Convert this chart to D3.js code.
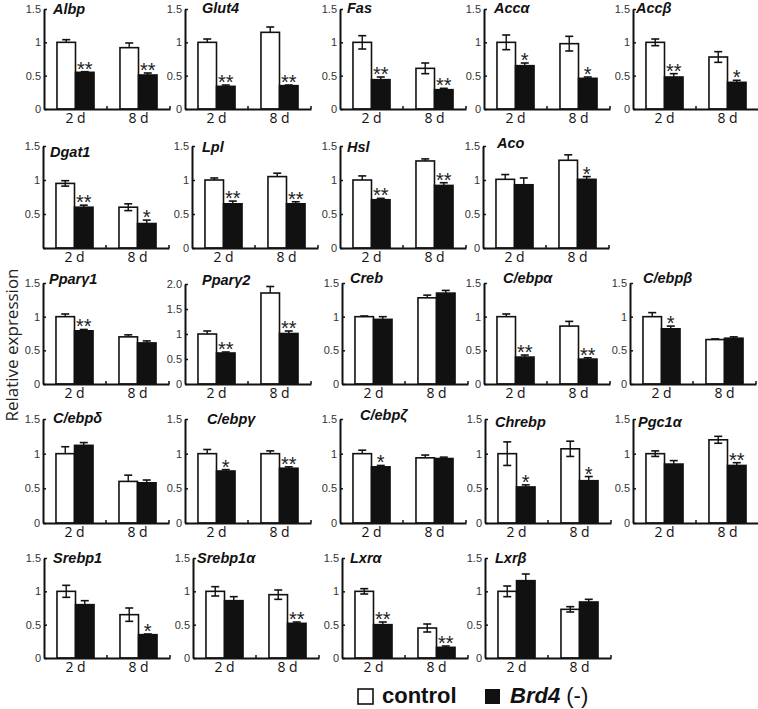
<!DOCTYPE html>
<html><head><meta charset="utf-8">
<script src="https://cdn.jsdelivr.net/npm/d3@7"></script>
<style>body{margin:0;background:#fff}</style>
</head><body>
<svg id="c" width="758" height="709"></svg>
<script>
// ---------- data ----------
const genes = ["Albp","Glut4","Fas","Accα","Accβ",
  "Dgat1","Lpl","Hsl","Aco",
  "Pparγ1","Pparγ2","Creb","C/ebpα","C/ebpβ",
  "C/ebpδ","C/ebpγ","C/ebpζ","Chrebp","Pgc1α",
  "Srebp1","Srebp1α","Lxrα","Lxrβ"];
const timepoints = ["2 d","8 d"];
const groups = ["control","Brd4 (-)"];
const control2d    = [1.00,1.00,1.00,1.00,1.00, 0.95,1.00,1.00,1.01, 1.00,1.00,1.00,1.00,1.00, 1.00,1.00,1.00,1.00,1.00, 1.00,1.00,1.00,1.00];
const control2dErr = [0.04,0.05,0.10,0.11,0.05, 0.04,0.03,0.06,0.07, 0.04,0.06,0.01,0.04,0.06, 0.10,0.06,0.05,0.17,0.04, 0.09,0.07,0.04,0.08];
const brd4_2d      = [0.55,0.34,0.44,0.65,0.48, 0.60,0.65,0.71,0.93, 0.79,0.62,0.96,0.40,0.82, 1.12,0.75,0.81,0.52,0.85, 0.80,0.86,0.50,1.16];
const brd4_2dErr   = [0.01,0.02,0.04,0.04,0.05, 0.03,0.04,0.02,0.10, 0.02,0.02,0.04,0.03,0.04, 0.04,0.02,0.02,0.03,0.05, 0.06,0.06,0.04,0.10];
const control8d    = [0.92,1.15,0.61,0.98,0.78, 0.60,1.05,1.28,1.29, 0.70,1.82,1.28,0.86,0.66, 0.60,1.00,0.94,1.07,1.20, 0.65,0.95,0.45,0.73];
const control8dErr = [0.07,0.08,0.08,0.11,0.08, 0.05,0.05,0.03,0.08, 0.03,0.13,0.04,0.07,0.01, 0.09,0.04,0.04,0.11,0.05, 0.10,0.07,0.06,0.04];
const brd4_8d      = [0.51,0.35,0.29,0.46,0.40, 0.36,0.65,0.92,1.01, 0.61,1.01,1.35,0.37,0.68, 0.58,0.79,0.93,0.61,0.83, 0.35,0.52,0.16,0.84];
const brd4_8dErr   = [0.03,0.01,0.02,0.02,0.03, 0.05,0.03,0.04,0.04, 0.03,0.05,0.04,0.02,0.02, 0.04,0.02,0.02,0.06,0.04, 0.01,0.02,0.02,0.04];
const sig2d = ["**","**","**","*","**", "**","**","**","", "**","**","","**","*", "","*","*","*","", "","","**",""];
const sig8d = ["**","**","**","*","*", "*","**","**","*", "","**","","**","", "","**","","*","**", "*","**","**",""];
const yMax  = [1.5,1.5,1.5,1.5,1.5, 1.5,1.5,1.5,1.5, 1.5,2.0,1.5,1.5,1.5, 1.5,1.5,1.5,1.5,1.5, 1.5,1.5,1.5,1.5];
const ticks15 = [0,0.5,1,1.5];
const ticks20 = [0,0.5,1,1.5,2.0];
const tickLabels20 = ["0","0.5","1","1.5","2.0"];
const twoSidedErr = ["Fas","Accα","Accβ","Dgat1","Chrebp","Pgc1α","Srebp1","Srebp1α","Lxrα","Lxrβ"];
const noZeroLabel = ["Dgat1"];
const yTitle = "Relative expression";

// ---------- layout ----------
const rowCounts = [5,4,5,5,4];
const rowTop  = [9,146,283,419,558];
const rowZero = [109,248,384,523,658];
const colX = [[44,185,340,484,633],[43,192,340,483],[43,185,342,484,630],[43,185,340,485,633],[44,193,342,485]];
const titleOff = [[[9,5],[17,4],[7,4],[10,4],[3,4]],
                  [[7,11],[10,6],[7,6],[14,2]],
                  [[6,1],[17,1],[8,0],[19,0],[13,0]],
                  [[10,4],[22,5],[20,1],[10,8],[5,8]],
                  [[9,5],[4,5],[8,5],[10,5]]];
const panelW = 126;

const svg = d3.select("#c");
let idx = 0;
rowCounts.forEach((n, r) => {
  for (let c = 0; c < n; c++, idx++) {
    const i = idx;
    const x0 = colX[r][c];
    const top = rowTop[r], zero = rowZero[r];
    const g = svg.append("g").attr("transform", `translate(${x0},0)`);
    const ymax = yMax[i];
    const topPx = ymax === 2.0 ? top + 1 : top;
    const y = d3.scaleLinear().domain([0, ymax]).range([zero, topPx]);
    const x = d3.scaleBand().domain(timepoints).range([0, panelW]).paddingInner(0).paddingOuter(0);
    const xi = d3.scaleBand().domain(groups).range([0, x.bandwidth()]).paddingInner(0).paddingOuter(0.7);

    const rows = [
      {t:"2 d", grp:"control", v:control2d[i], e:control2dErr[i], s:""},
      {t:"2 d", grp:"Brd4 (-)", v:brd4_2d[i], e:brd4_2dErr[i], s:sig2d[i]},
      {t:"8 d", grp:"control", v:control8d[i], e:control8dErr[i], s:""},
      {t:"8 d", grp:"Brd4 (-)", v:brd4_8d[i], e:brd4_8dErr[i], s:sig8d[i]}
    ];
    const two = twoSidedErr.includes(genes[i]);

    // bars
    g.selectAll("rect.bar").data(rows).join("rect")
      .attr("x", d => x(d.t) + xi(d.grp))
      .attr("y", d => y(d.v))
      .attr("width", xi.bandwidth())
      .attr("height", d => zero - y(d.v))
      .attr("fill", d => d.grp === "control" ? "#fff" : "#111")
      .attr("stroke", "#111").attr("stroke-width", 1.6);

    // error bars
    rows.forEach(d => {
      const cx = x(d.t) + xi(d.grp) + xi.bandwidth() / 2;
      const yHi = y(d.v + d.e), yLo = two ? y(d.v - d.e) : y(d.v);
      const col = "#111";
      g.append("line").attr("x1", cx).attr("x2", cx).attr("y1", yLo).attr("y2", yHi)
        .attr("stroke", col).attr("stroke-width", 1.4);
      g.append("line").attr("x1", cx - 4).attr("x2", cx + 4).attr("y1", yHi).attr("y2", yHi)
        .attr("stroke", col).attr("stroke-width", 1.6);
      if (two) g.append("line").attr("x1", cx - 4).attr("x2", cx + 4).attr("y1", yLo).attr("y2", yLo)
        .attr("stroke", col).attr("stroke-width", 1.6);
      if (d.s) g.append("text").attr("x", cx).attr("y", yHi + 4)
        .attr("text-anchor", "middle").attr("font-family", "Liberation Sans, Arial, sans-serif")
        .attr("font-size", 20).attr("fill", "#222").text(d.s);
    });

    // y axis
    const tv = ymax === 2.0 ? ticks20 : ticks15;
    const yAxis = d3.axisLeft(y).tickValues(tv).tickSize(-3).tickSizeOuter(0).tickPadding(3)
      .tickFormat((v, k) => {
        if (v === 0 && noZeroLabel.includes(genes[i])) return "";
        return ymax === 2.0 ? tickLabels20[k] : String(v);
      });
    const ya = g.append("g").call(yAxis);
    ya.select(".domain").attr("stroke", "#111").attr("stroke-width", 2);
    ya.selectAll(".tick line").attr("stroke", "#111").attr("stroke-width", 1.5);
    ya.selectAll("text").attr("font-family", "Liberation Sans, Arial, sans-serif").attr("font-size", 11).attr("fill", "#333");

    // x axis
    const xAxis = d3.axisBottom(x).tickSize(0).tickSizeOuter(0).tickPadding(4);
    const xa = g.append("g").attr("transform", `translate(0,${zero})`).call(xAxis);
    xa.select(".domain").attr("stroke", "#111").attr("stroke-width", 2);
    xa.selectAll("text").attr("font-family", "Open Sans, sans-serif").attr("font-size", 14).attr("fill", "#111");
    [x("8 d"), x.range()[1]].forEach(px => {
      g.append("line").attr("x1", px).attr("x2", px).attr("y1", zero).attr("y2", zero - 3)
        .attr("stroke", "#111").attr("stroke-width", 1.5);
    });

    // title
    g.append("text").attr("x", titleOff[r][c][0]).attr("y", topPx + titleOff[r][c][1])
      .attr("font-family", "Liberation Sans, Arial, sans-serif").attr("font-size", 14.5)
      .attr("font-weight", "bold").attr("font-style", "italic").attr("fill", "#111")
      .text(genes[i]);
  }
});

// y title
svg.append("text").attr("transform", "translate(18,345) rotate(-90)")
  .attr("text-anchor", "middle").attr("font-family", "Open Sans, sans-serif")
  .attr("font-size", 17).attr("fill", "#222").text(yTitle);

// legend
const lg = svg.append("g");
lg.append("rect").attr("x", 358).attr("y", 689).attr("width", 15).attr("height", 15)
  .attr("fill", "#fff").attr("stroke", "#111").attr("stroke-width", 1.6);
lg.append("text").attr("x", 382).attr("y", 703).attr("font-family", "Liberation Sans, Arial, sans-serif")
  .attr("font-size", 22).attr("font-weight", "bold").attr("fill", "#111").text(groups[0]);
lg.append("rect").attr("x", 485).attr("y", 689).attr("width", 15).attr("height", 15).attr("fill", "#111");
const lt = lg.append("text").attr("x", 510).attr("y", 703).attr("font-family", "Liberation Sans, Arial, sans-serif")
  .attr("font-size", 22).attr("fill", "#111");
lt.append("tspan").attr("font-weight", "bold").attr("font-style", "italic").text(groups[1].split(" ")[0]);
lt.append("tspan").text(" " + groups[1].split(" ")[1]);
</script>
</body></html>
